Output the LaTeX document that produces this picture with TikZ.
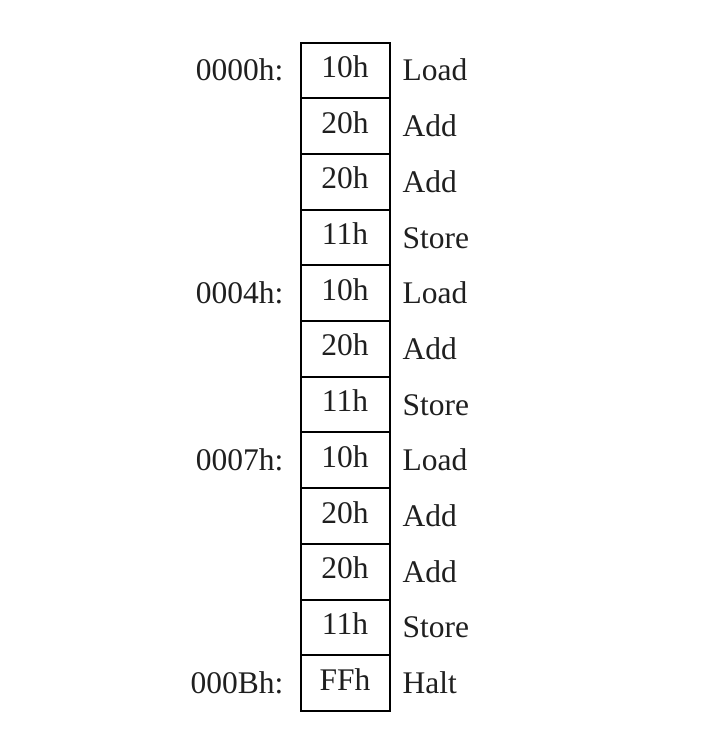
\documentclass[tikz,border=0pt]{standalone}
\usepackage{fontspec}
\setmainfont{Liberation Serif}
\usepackage{tikz}
\usetikzlibrary{positioning}

\tikzset{
    cell/.style={draw, line width=2pt, minimum width=89pt, minimum height=55.7pt,
        inner sep=0pt, outer sep=0pt, text height=21pt, text depth=7pt},
    addr/.style={inner sep=0pt, text height=21pt, text depth=0pt},
    op/.style={inner sep=0pt, text height=21pt, text depth=0pt}
}

\begin{document}
\begin{tikzpicture}[x=1pt, y=1pt, font=\fontsize{31.5}{36}\selectfont, text=black!88]
    \useasboundingbox (0,0) rectangle (708,-750);

    % Memory cells
    \node[cell] (c0) at (345,-70.4) {10h};
    \node[cell, below=0pt of c0] (c1) {20h};
    \node[cell, below=0pt of c1] (c2) {20h};
    \node[cell, below=0pt of c2] (c3) {11h};
    \node[cell, below=0pt of c3] (c4) {10h};
    \node[cell, below=0pt of c4] (c5) {20h};
    \node[cell, below=0pt of c5] (c6) {11h};
    \node[cell, below=0pt of c6] (c7) {10h};
    \node[cell, below=0pt of c7] (c8) {20h};
    \node[cell, below=0pt of c8] (c9) {20h};
    \node[cell, below=0pt of c9] (c10) {11h};
    \node[cell, below=0pt of c10] (c11) {FFh};

    % Addresses
    \node[addr, left=17pt of c0] (a0) {0000h:};
    \node[addr, left=17pt of c4] (a4) {0004h:};
    \node[addr, left=17pt of c7] (a7) {0007h:};
    \node[addr, left=17pt of c11] (a11) {000Bh:};

    % Instructions
    \node[op, right=13pt of c0] (o0) {Load};
    \node[op, right=13pt of c1] (o1) {Add};
    \node[op, right=13pt of c2] (o2) {Add};
    \node[op, right=13pt of c3] (o3) {Store};
    \node[op, right=13pt of c4] (o4) {Load};
    \node[op, right=13pt of c5] (o5) {Add};
    \node[op, right=13pt of c6] (o6) {Store};
    \node[op, right=13pt of c7] (o7) {Load};
    \node[op, right=13pt of c8] (o8) {Add};
    \node[op, right=13pt of c9] (o9) {Add};
    \node[op, right=13pt of c10] (o10) {Store};
    \node[op, right=13pt of c11] (o11) {Halt};
\end{tikzpicture}
\end{document}
